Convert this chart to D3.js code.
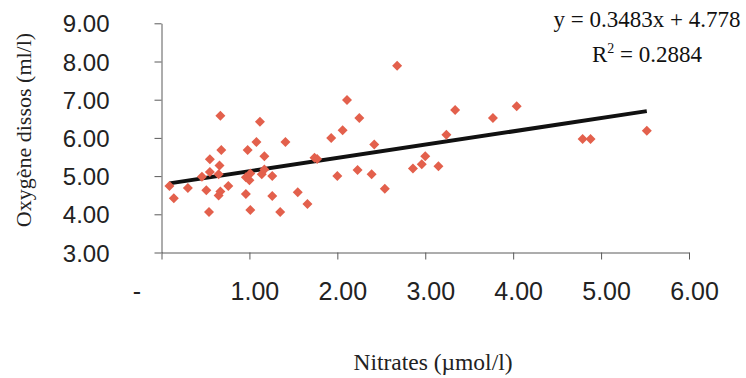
<!DOCTYPE html>
<html>
<head>
<meta charset="utf-8">
<script src="https://cdn.jsdelivr.net/npm/d3@7"></script>
<style>
  html, body { margin: 0; padding: 0; background: #fff; }
  svg { display: block; }
</style>
</head>
<body>
<svg id="chart" width="746" height="378"></svg>
<script>
// ---- Data ----
const nitrates = [0.09, 0.14, 0.30, 0.46, 0.51, 0.55, 0.55, 0.54, 0.65, 0.67,
  0.66, 0.67, 0.68, 0.65, 0.76, 0.96, 1.01, 0.98, 0.96, 1.00,
  1.01, 1.08, 1.12, 1.17, 1.14, 1.17, 1.26, 1.26, 1.35, 1.41,
  1.55, 1.66, 1.74, 1.77, 1.93, 2.00, 2.06, 2.11, 2.23, 2.25,
  2.39, 2.42, 2.54, 2.68, 2.86, 2.96, 3.00, 3.15, 3.24, 3.34,
  3.77, 4.04, 4.79, 4.88, 5.52];
const oxygen = [4.74, 4.42, 4.69, 4.98, 4.63, 5.11, 5.44, 4.06, 4.49, 4.60,
  5.28, 6.58, 5.68, 5.05, 4.74, 4.53, 4.11, 5.68, 4.97, 4.89,
  5.07, 5.89, 6.42, 5.52, 5.05, 5.17, 5.00, 4.48, 4.06, 5.89,
  4.58, 4.27, 5.48, 5.45, 6.00, 5.00, 6.20, 6.99, 5.16, 6.52,
  5.05, 5.83, 4.67, 7.89, 5.20, 5.31, 5.52, 5.26, 6.08, 6.73,
  6.52, 6.83, 5.97, 5.97, 6.19];
const xTicks = [0, 1, 2, 3, 4, 5, 6];
const yTicks = [3, 4, 5, 6, 7, 8, 9];
const trendSlope = 0.3483;
const trendIntercept = 4.778;
const equationLines = ["y = 0.3483x + 4.778", "R2 = 0.2884"];
const xTitle = "Nitrates (\u00b5mol/l)";
const yTitle = "Oxyg\u00e8ne dissos (ml/l)";

// ---- Layout ----
const svg = d3.select("#chart");
const x = d3.scaleLinear().domain([0, 6]).range([161.5, 689]);
const y = d3.scaleLinear().domain([3, 9]).range([252.5, 23.3]);
const axisColor = "#5a5a5a";
const textColor = "#222";

// Y axis
const yAxis = svg.append("g")
  .attr("transform", `translate(${x(0)},0)`)
  .call(d3.axisLeft(y).tickValues(yTicks).tickSize(7).tickSizeOuter(0)
    .tickPadding(45).tickFormat(d3.format(".2f")));
yAxis.select(".domain").attr("stroke", axisColor);
yAxis.selectAll(".tick line").attr("stroke", axisColor);
yAxis.selectAll(".tick text")
  .attr("fill", textColor)
  .style("font-family", "Arial, 'Liberation Sans', sans-serif")
  .style("font-size", "24px")
  .attr("dy", "0.36em");

// X axis
const xAxis = svg.append("g")
  .attr("transform", `translate(0,${y(3)})`)
  .call(d3.axisBottom(x).tickValues(xTicks).tickSize(7).tickSizeOuter(0)
    .tickFormat(d => d === 0 ? "-" : d3.format(".2f")(d)));
xAxis.select(".domain").attr("stroke", axisColor);
xAxis.selectAll(".tick line").attr("stroke", axisColor);
xAxis.selectAll(".tick text")
  .attr("fill", textColor)
  .style("font-family", "Arial, 'Liberation Sans', sans-serif")
  .style("font-size", "25px")
  .attr("dy", null)
  .attr("y", 47.5)
  .attr("x", d => d === 0 ? -25 : 5);

// Trend line
const xMin = d3.min(nitrates), xMax = d3.max(nitrates);
svg.append("line")
  .attr("x1", x(xMin)).attr("y1", y(trendSlope * xMin + trendIntercept))
  .attr("x2", x(xMax)).attr("y2", y(trendSlope * xMax + trendIntercept))
  .attr("stroke", "#111")
  .attr("stroke-width", 4)
  .attr("stroke-linecap", "butt");

// Points (diamonds)
const diamond = d3.symbol().type(d3.symbolSquare).size(50);
svg.append("g").selectAll("path")
  .data(nitrates.map((v, i) => [v, oxygen[i]]))
  .join("path")
  .attr("d", diamond)
  .attr("transform", d => `translate(${x(d[0])},${y(d[1])}) rotate(45)`)
  .attr("fill", "#e3604c");

// Equation
const eq = svg.append("g")
  .style("font-family", "'Liberation Serif', 'Times New Roman', serif")
  .style("font-size", "23px")
  .attr("fill", "#111");
eq.append("text").attr("x", 647).attr("y", 27).attr("text-anchor", "middle")
  .text(equationLines[0]);
const r2 = eq.append("text").attr("x", 647).attr("y", 62).attr("text-anchor", "middle");
r2.append("tspan").text("R");
r2.append("tspan").attr("dy", -9).style("font-size", "14px").text("2");
r2.append("tspan").attr("dy", 9).text(equationLines[1].slice(2));

// Axis titles
svg.append("text")
  .attr("x", 433).attr("y", 370)
  .attr("text-anchor", "middle")
  .style("font-family", "'Liberation Serif', 'Times New Roman', serif")
  .style("font-size", "23.5px")
  .attr("fill", textColor)
  .text(xTitle);

svg.append("text")
  .attr("transform", "translate(31,130) rotate(-90)")
  .attr("text-anchor", "middle")
  .style("font-family", "'Liberation Serif', 'Times New Roman', serif")
  .style("font-size", "22px")
  .attr("fill", textColor)
  .text(yTitle);
</script>
</body>
</html>
